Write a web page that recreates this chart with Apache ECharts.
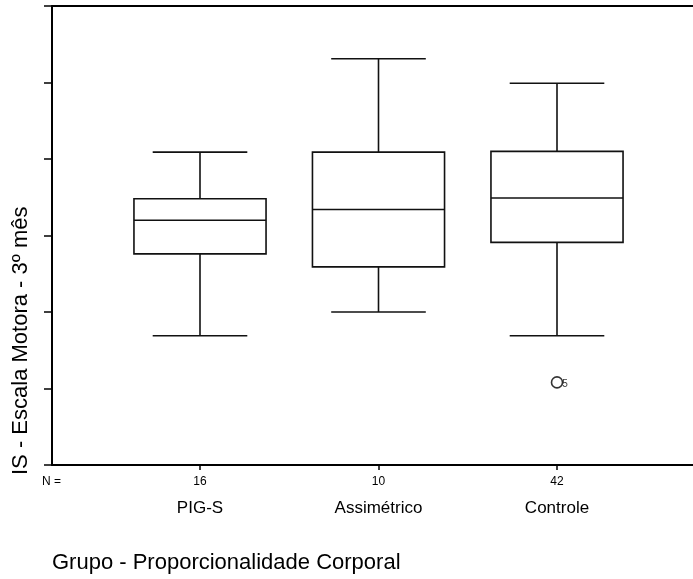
<!DOCTYPE html>
<html>
<head>
<meta charset="utf-8">
<script src="https://cdn.jsdelivr.net/npm/echarts@6/dist/echarts.min.js"></script>
<style>
  html, body { margin: 0; padding: 0; background: #fff; }
  #chart { width: 693px; height: 579px; }
</style>
</head>
<body>
<div id="chart"></div>
<script>
// grupos e tamanhos de amostra
var groups = ['PIG-S', 'Assimétrico', 'Controle'];
var nCounts = ['16', '10', '42'];

// estatisticas do boxplot (escala sem rotulos no eixo)
var whiskerLow  = [16.9, 20.0, 16.9];
var q1          = [27.6, 25.9, 29.1];
var median      = [32.0, 33.4, 34.9];
var q3          = [34.8, 40.9, 41.0];
var whiskerHigh = [40.9, 53.1, 49.9];

// outlier
var outlierGroup = [2];
var outlierValue = [10.8];
var outlierCase  = ['5'];

// ticks do eixo y
var yMin = 0, yMax = 60, yStep = 10;

var boxData = [];
for (var i = 0; i < groups.length; i++) {
    boxData.push([i, whiskerLow[i], q1[i], median[i], q3[i], whiskerHigh[i]]);
}
var outData = [];
for (var j = 0; j < outlierGroup.length; j++) {
    outData.push({ value: [outlierGroup[j], outlierValue[j]], caseNo: outlierCase[j] });
}

var lineStyle = { stroke: '#111', lineWidth: 1.6 };
var font = 'Liberation Sans, Arial, sans-serif';

function renderBox(params, api) {
    var x = api.value(0);
    var pLow = api.coord([x, api.value(1)]);
    var pQ1 = api.coord([x, api.value(2)]);
    var pMed = api.coord([x, api.value(3)]);
    var pQ3 = api.coord([x, api.value(4)]);
    var pHigh = api.coord([x, api.value(5)]);
    var band = api.size([1, 0])[0];
    var bw = band * 0.74;
    var cw = band * 0.53;
    var cx = pMed[0];
    return {
        type: 'group',
        children: [
            { type: 'line', shape: { x1: cx, y1: pQ3[1], x2: cx, y2: pHigh[1] }, style: lineStyle },
            { type: 'line', shape: { x1: cx, y1: pQ1[1], x2: cx, y2: pLow[1] }, style: lineStyle },
            { type: 'line', shape: { x1: cx - cw / 2, y1: pHigh[1], x2: cx + cw / 2, y2: pHigh[1] }, style: lineStyle },
            { type: 'line', shape: { x1: cx - cw / 2, y1: pLow[1], x2: cx + cw / 2, y2: pLow[1] }, style: lineStyle },
            { type: 'rect', shape: { x: cx - bw / 2, y: pQ3[1], width: bw, height: pQ1[1] - pQ3[1] },
              style: { fill: '#fff', stroke: '#111', lineWidth: 1.6 } },
            { type: 'line', shape: { x1: cx - bw / 2, y1: pMed[1], x2: cx + bw / 2, y2: pMed[1] }, style: lineStyle }
        ]
    };
}

var chart = echarts.init(document.getElementById('chart'));

var frameAxis = {
    gridIndex: 0, type: 'value', min: 0, max: 1,
    axisLine: { show: true, lineStyle: { color: '#000', width: 2 } },
    axisTick: { show: false }, axisLabel: { show: false }, splitLine: { show: false }
};

var option = {
    animation: false,
    backgroundColor: '#fff',
    textStyle: { fontFamily: font, color: '#000' },
    grid: [
        // moldura (sem lado direito, continua para fora da imagem)
        { left: 52, top: 6, right: 0, height: 459 },
        // area das caixas
        { left: 110.75, top: 6, width: 535.5, height: 459 }
    ],
    xAxis: [
        echarts.util.extend({ position: 'bottom' }, frameAxis),
        {
            gridIndex: 1,
            type: 'category',
            data: groups,
            axisLine: { show: false },
            axisTick: { show: true, alignWithLabel: true, length: 5, lineStyle: { color: '#000', width: 1.5 } },
            axisLabel: {
                interval: 0,
                margin: 10,
                color: '#000',
                formatter: function (v, idx) {
                    return '{n|' + nCounts[idx] + '}\n{c|' + v + '}';
                },
                rich: {
                    n: { fontSize: 12, lineHeight: 14, fontFamily: font, color: '#000' },
                    c: { fontSize: 17, lineHeight: 38, fontFamily: font, color: '#000' }
                }
            },
            splitLine: { show: false }
        },
        echarts.util.extend({ position: 'top' }, frameAxis)
    ],
    yAxis: [
        {
            gridIndex: 0,
            type: 'value',
            min: yMin, max: yMax, interval: yStep,
            axisLine: { show: true, lineStyle: { color: '#000', width: 2 } },
            axisTick: { show: true, length: 8, lineStyle: { color: '#000', width: 1.5 } },
            axisLabel: { show: false },
            splitLine: { show: false }
        },
        { gridIndex: 1, type: 'value', min: yMin, max: yMax, interval: yStep, show: false }
    ],
    graphic: [
        {
            type: 'text', x: 21, y: 475, rotation: Math.PI / 2,
            style: { text: 'IS - Escala Motora - 3º mês', font: '22px ' + font, fill: '#000', align: 'left', verticalAlign: 'middle' }
        },
        {
            type: 'text', x: 42, y: 482,
            style: { text: 'N =', font: '12px ' + font, fill: '#000', align: 'left', verticalAlign: 'middle' }
        },
        {
            type: 'text', x: 52, y: 563,
            style: { text: 'Grupo - Proporcionalidade Corporal', font: '22px ' + font, fill: '#000', align: 'left', verticalAlign: 'middle' }
        }
    ],
    series: [
        {
            type: 'custom',
            xAxisIndex: 1, yAxisIndex: 1,
            renderItem: renderBox,
            encode: { x: 0, y: [1, 2, 3, 4, 5] },
            data: boxData
        },
        {
            type: 'scatter',
            xAxisIndex: 1, yAxisIndex: 1,
            symbol: 'circle',
            symbolSize: 11,
            itemStyle: { color: '#fff', borderColor: '#000', borderWidth: 1.6 },
            label: {
                show: true,
                position: 'right',
                distance: 0,
                offset: [-1, 2],
                fontSize: 10,
                color: '#000',
                formatter: function (p) { return p.data.caseNo; }
            },
            data: outData
        }
    ]
};

chart.setOption(option);
</script>
</body>
</html>
